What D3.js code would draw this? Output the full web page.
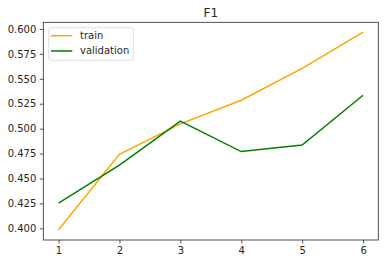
<!DOCTYPE html>
<html>
<head>
<meta charset="utf-8">
<script src="https://cdn.jsdelivr.net/npm/d3@7"></script>
<style>
	body { margin: 0; background: #fff; }
	text { font-family: "DejaVu Sans", sans-serif; fill: #262626; }
</style>
</head>
<body>
<div id="chart"></div>
<script>
// values
const epochs = [1, 2, 3, 4, 5, 6];
const train = [0.3985, 0.4743, 0.5048, 0.5285, 0.5605, 0.5968];
const validation = [0.4253, 0.4635, 0.5075, 0.4770, 0.4835, 0.5335];
const y_ticks = [0.400, 0.425, 0.450, 0.475, 0.500, 0.525, 0.550, 0.575, 0.600];
const series_names = ["train", "validation"];
const series_colors = ["orange", "green"];

const W = 388, H = 264;
const margin = {top: 22.3, right: 9.7, bottom: 24, left: 43.3};
const width = W - margin.left - margin.right;
const height = H - margin.top - margin.bottom;

const svg = d3.select("#chart").append("svg")
	.attr("width", W)
	.attr("height", H);

const g = svg.append("g")
	.attr("transform", `translate(${margin.left},${margin.top})`);

// matplotlib-style 5% margins
const x_scale = d3.scaleLinear()
	.domain([0.75, 6.25])
	.range([0, width]);

const y_scale = d3.scaleLinear()
	.domain([0.3883, 0.6067])
	.range([height, 0]);

// axes
const x_axis = g.append("g")
	.attr("transform", `translate(0,${height})`)
	.call(d3.axisBottom(x_scale).tickValues(epochs).tickFormat(d3.format("d")).tickSize(3.5).tickPadding(3.5));

const y_axis = g.append("g")
	.call(d3.axisLeft(y_scale).tickValues(y_ticks).tickFormat(d3.format(".3f")).tickSize(3.5).tickPadding(3.5));

[x_axis, y_axis].forEach((a) => {
	a.select(".domain").remove();
	a.selectAll("line").attr("stroke", "#262626").attr("stroke-width", 0.8);
	a.selectAll("text").style("font-size", "10px").style("fill", "#262626");
});

// lines
const line = d3.line()
	.x((d, i) => x_scale(epochs[i]))
	.y((d) => y_scale(d));

[train, validation].forEach((s, i) => {
	g.append("path")
		.datum(s)
		.attr("fill", "none")
		.attr("stroke", series_colors[i])
		.attr("stroke-width", 1.5)
		.attr("d", line);
});

// frame
g.append("rect")
	.attr("width", width)
	.attr("height", height)
	.attr("fill", "none")
	.attr("stroke", "#262626")
	.attr("stroke-width", 0.8);

// title
svg.append("text")
	.attr("x", margin.left + width / 2)
	.attr("y", 17)
	.attr("text-anchor", "middle")
	.style("font-size", "12px")
	.text("F1");

// legend
const legend = g.append("g").attr("transform", "translate(5.4,5.4)");
legend.append("rect")
	.attr("width", 84.6)
	.attr("height", 32.6)
	.attr("rx", 2)
	.attr("fill", "#fff")
	.attr("fill-opacity", 0.8)
	.attr("stroke", "#d6d6d6")
	.attr("stroke-width", 0.8);

series_names.forEach((name, i) => {
	const yy = 8 + i * 15.3;
	legend.append("line")
		.attr("x1", 2.3).attr("x2", 23.6)
		.attr("y1", yy).attr("y2", yy)
		.attr("stroke", series_colors[i])
		.attr("stroke-width", 1.5);
	legend.append("text")
		.attr("x", 31.3)
		.attr("y", yy)
		.attr("dy", "0.35em")
		.style("font-size", "10px")
		.text(name);
});
</script>
</body>
</html>
